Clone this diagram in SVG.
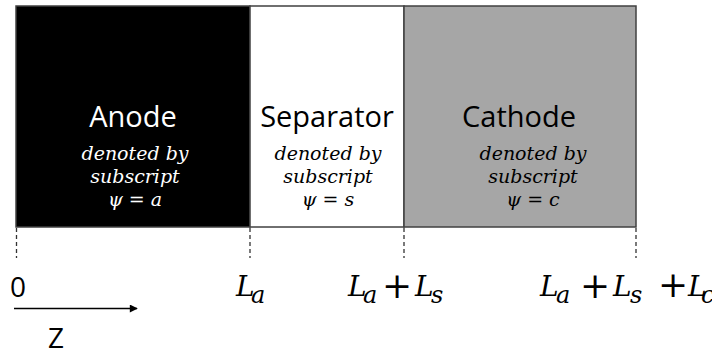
<svg xmlns="http://www.w3.org/2000/svg" width="712" height="357" viewBox="0 0 712 357">
<style>
.region{stroke:#404040;stroke-width:1.5}
.title{font-family:"Open Sans","Noto Sans",sans-serif;font-size:29px;text-anchor:middle}
.sub{font-family:"DejaVu Serif",serif;font-style:italic;font-size:19px;text-anchor:middle}
.math{font-family:"DejaVu Serif",serif;font-style:italic;font-size:28px}
.ms{font-size:24px}
.plus{font-style:normal;font-size:36px}
.dash{stroke:#333;stroke-width:1.3;stroke-dasharray:4 3;fill:none}
.sans{font-family:"Open Sans","Noto Sans",sans-serif;font-size:28px}
</style>
<defs>
<marker id="ah" viewBox="0 0 10 10" refX="9" refY="5" markerWidth="9" markerHeight="8" markerUnits="userSpaceOnUse" orient="auto"><path d="M0,0 L10,5 L0,10 z" fill="#000"/></marker>
</defs>
<g id="anode">
<rect class="region" x="16" y="6" width="234" height="221" fill="#000"/>
<text class="title" x="133" y="127" fill="#fff">Anode</text>
<text class="sub" x="135" y="160" fill="#fff">denoted by</text>
<text class="sub" x="135" y="183" fill="#fff">subscript</text>
<text class="sub" x="135" y="206" fill="#fff">ψ = a</text>
</g>
<g id="separator">
<rect class="region" x="250" y="6" width="154" height="221" fill="#fff"/>
<text class="title" x="327" y="127" fill="#000">Separator</text>
<text class="sub" x="328" y="160" fill="#000">denoted by</text>
<text class="sub" x="328" y="183" fill="#000">subscript</text>
<text class="sub" x="328" y="206" fill="#000">ψ = s</text>
</g>
<g id="cathode">
<rect class="region" x="404" y="6" width="232" height="221" fill="#a6a6a6"/>
<text class="title" x="519" y="127" fill="#000">Cathode</text>
<text class="sub" x="533" y="160" fill="#000">denoted by</text>
<text class="sub" x="533" y="183" fill="#000">subscript</text>
<text class="sub" x="533" y="206" fill="#000">ψ = c</text>
</g>
<g id="connectors">
<line class="dash" x1="16.5" y1="228" x2="16.5" y2="258"/>
<line class="dash" x1="250" y1="228" x2="250" y2="258"/>
<line class="dash" x1="404" y1="228" x2="404" y2="258"/>
<line class="dash" x1="636" y1="228" x2="636" y2="258"/>
<line x1="14" y1="308.5" x2="137" y2="308.5" stroke="#000" stroke-width="1.5" marker-end="url(#ah)"/>
</g>
<g id="labels">
<text class="sans" x="10" y="297">0</text>
<text class="sans" x="48" y="348">Z</text>
<text class="math" y="296"><tspan x="236">L</tspan><tspan class="ms" x="251" y="303">a</tspan></text>
<text class="math" y="296"><tspan x="348">L</tspan><tspan class="ms" x="363" y="303">a</tspan><tspan class="plus" x="382" y="298">+</tspan><tspan x="415" y="296">L</tspan><tspan class="ms" x="431" y="303">s</tspan></text>
<text class="math" y="296"><tspan x="540">L</tspan><tspan class="ms" x="556" y="303">a</tspan><tspan class="plus" x="580" y="298">+</tspan><tspan x="613" y="296">L</tspan><tspan class="ms" x="630" y="303">s</tspan><tspan class="plus" x="658" y="297" font-size="28">+</tspan><tspan x="688" y="296">L</tspan><tspan class="ms" x="701" y="303">c</tspan></text>
</g>
</svg>
